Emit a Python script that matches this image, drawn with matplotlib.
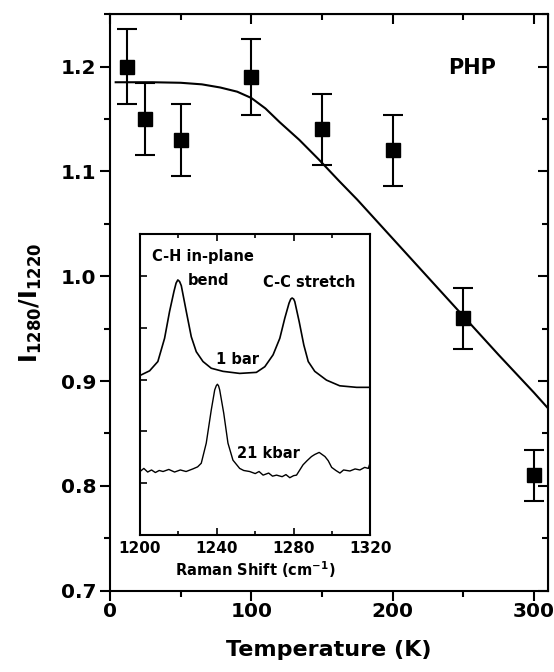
import numpy as np
import matplotlib
matplotlib.use("Agg")
import matplotlib.pyplot as plt
from matplotlib.ticker import MultipleLocator, FormatStrFormatter

plt.rcParams['font.family'] = ['DejaVu Sans']
plt.rcParams['font.weight'] = 'bold'
plt.rcParams['mathtext.default'] = 'bf'

# Datos principales: cociente de intensidades vs temperatura
temperatura = [12, 25, 50, 100, 150, 200, 250, 300]
cociente = [1.20, 1.15, 1.13, 1.19, 1.14, 1.12, 0.96, 0.81]
error = [0.036, 0.034, 0.034, 0.036, 0.034, 0.034, 0.029, 0.024]

# Curva de ajuste
t_ajuste = [4, 30, 50, 65, 78, 90, 100, 110, 120, 134, 148, 162, 175, 200, 225, 250, 275, 300, 310]
y_ajuste = [1.185, 1.185, 1.1845, 1.183, 1.180, 1.176, 1.170, 1.160, 1.147, 1.130, 1.111,
            1.091, 1.073, 1.036, 0.999, 0.962, 0.925, 0.889, 0.874]

# Espectros Raman del recuadro
raman_1bar = [1200, 1205, 1209.3, 1212.8, 1215.4, 1217.7, 1218.8, 1219.7, 1220.6, 1221.5,
              1224.1, 1226.7, 1229.3, 1232.8, 1237.1, 1243.2, 1251.9, 1260.6, 1265, 1269.3,
              1272.8, 1275.4, 1277.6, 1278.5, 1279.2, 1280, 1280.6, 1282.9, 1285.3, 1287.6,
              1291, 1297.1, 1304, 1312.8, 1320]
int_1bar = [3.08, 3.17, 3.35, 3.80, 4.32, 4.71, 4.87, 4.93, 4.90, 4.82,
            4.32, 3.83, 3.54, 3.35, 3.22, 3.16, 3.12, 3.14, 3.25, 3.48,
            3.80, 4.19, 4.48, 4.56, 4.58, 4.56, 4.51, 4.12, 3.67, 3.35,
            3.16, 2.99, 2.88, 2.85, 2.85]

raman_21kbar = [1200, 1202, 1204, 1206, 1208, 1210, 1212, 1215, 1218, 1221, 1224, 1227.5,
                1230, 1231.9, 1234.5, 1237.1, 1238.9, 1239.7, 1240.3, 1240.9, 1241.5, 1243.6,
                1245.8, 1248.4, 1251.9, 1254, 1257.1, 1260, 1262, 1264.1, 1267, 1269, 1271.1,
                1274, 1276, 1278, 1280, 1281.5, 1284.9, 1287, 1289.3, 1291, 1293.3, 1296.3,
                1298, 1299.8, 1302, 1304.1, 1306, 1309.3, 1312, 1314.5, 1317, 1318.9, 1320]
int_21kbar = [1.22, 1.28, 1.21, 1.25, 1.20, 1.24, 1.22, 1.26, 1.21, 1.25, 1.22, 1.27,
              1.31, 1.38, 1.77, 2.41, 2.80, 2.88, 2.91, 2.88, 2.80, 2.35,
              1.77, 1.44, 1.28, 1.24, 1.22, 1.18, 1.22, 1.15, 1.19, 1.13, 1.15,
              1.12, 1.16, 1.10, 1.14, 1.15, 1.35, 1.43, 1.51, 1.55, 1.59, 1.51,
              1.43, 1.30, 1.24, 1.19, 1.25, 1.23, 1.27, 1.25, 1.30, 1.28, 1.41]

fig = plt.figure(figsize=(5.54, 6.72), dpi=100)
ax = fig.add_axes([0.1986, 0.121, 0.7906, 0.858])

ax.errorbar(temperatura, cociente, yerr=error, fmt='s', color='black', markersize=9.5,
            capsize=7, elinewidth=1.5, capthick=1.5, zorder=3)
ax.plot(t_ajuste, y_ajuste, color='black', lw=1.5)

ax.set_xlim(0, 310)
ax.set_ylim(0.7, 1.25)
ax.xaxis.set_major_locator(MultipleLocator(100))
ax.xaxis.set_minor_locator(MultipleLocator(50))
ax.yaxis.set_major_locator(MultipleLocator(0.1))
ax.yaxis.set_minor_locator(MultipleLocator(0.05))
ax.yaxis.set_major_formatter(FormatStrFormatter('%.1f'))
for s in ax.spines.values():
    s.set_linewidth(1.5)
ax.tick_params(axis='both', which='major', direction='out', length=7, width=1.5,
               labelsize=14.5, pad=1)
ax.tick_params(axis='both', which='minor', direction='out', length=4, width=1.5)
ax.tick_params(axis='y', which='major', pad=3)

# Marcas espejo hacia dentro arriba y a la derecha
sec_top = ax.secondary_xaxis('top')
sec_top.xaxis.set_major_locator(MultipleLocator(100))
sec_top.xaxis.set_minor_locator(MultipleLocator(50))
sec_top.tick_params(which='major', direction='in', length=7, width=1.5, labeltop=False)
sec_top.tick_params(which='minor', direction='in', length=4, width=1.5)
sec_der = ax.secondary_yaxis('right')
sec_der.yaxis.set_major_locator(MultipleLocator(0.1))
sec_der.yaxis.set_minor_locator(MultipleLocator(0.05))
sec_der.tick_params(which='major', direction='in', length=7, width=1.5, labelright=False)
sec_der.tick_params(which='minor', direction='in', length=4, width=1.5)

ax.set_ylabel(r'$I_{1280}/I_{1220}$', fontsize=17, labelpad=12)
fig.text(329 / 554, 1 - 650 / 672, 'Temperature (K)', fontsize=16, fontweight='bold',
         ha='center', va='center')
fig.text(448 / 554, 1 - 67.7 / 672, 'PHP', fontsize=15, fontweight='bold',
         va='center', ha='left')

# Recuadro con espectros
ins = fig.add_axes([0.2527, 0.2046, 0.416, 0.4472])
ins.plot(raman_1bar, int_1bar, color='black', lw=1.2)
ins.plot(raman_21kbar, int_21kbar, color='black', lw=1.0)
ins.set_xlim(1200, 1320)
ins.set_ylim(0, 5.82)
ins.set_xticks([1200, 1240, 1280, 1320])
ins.xaxis.set_minor_locator(MultipleLocator(20))
ins.set_yticks([1, 2, 3, 4, 5])
ins.set_yticklabels([])
for s in ins.spines.values():
    s.set_linewidth(1.5)
ins.tick_params(which='major', direction='in', length=5, width=1.2, top=True,
                labelsize=11, pad=5)
ins.tick_params(which='minor', direction='in', length=3, width=1.2, top=True)
ins.set_xlabel(r'Raman Shift (cm$^{-1}$)', fontsize=10.5, fontweight='bold', labelpad=2)

ins.text(1206.5, 5.38, 'C-H in-plane', fontsize=10.5, fontweight='bold', va='center')
ins.text(1224.8, 4.91, 'bend', fontsize=10.5, fontweight='bold', va='center')
ins.text(1263.8, 4.89, 'C-C stretch', fontsize=10.5, fontweight='bold', va='center')
ins.text(1239.8, 3.38, '1 bar', fontsize=10.5, fontweight='bold', va='center')
ins.text(1250.5, 1.56, '21 kbar', fontsize=10.5, fontweight='bold', va='center')

plt.savefig('out.png', dpi=100)
